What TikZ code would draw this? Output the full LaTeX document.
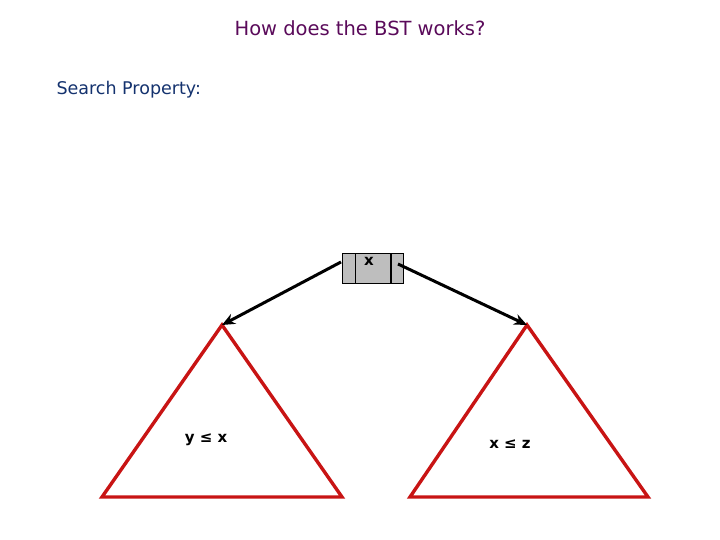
\documentclass[tikz,border=0pt]{standalone}
\usepackage{fontspec}
\setmainfont{DejaVu Sans}
\usetikzlibrary{arrows.meta}
\definecolor{titlecol}{RGB}{90,10,90}
\definecolor{subcol}{RGB}{20,50,110}
\definecolor{trired}{RGB}{200,20,20}
\definecolor{boxgray}{RGB}{190,190,190}
\tikzset{
  tri/.style={draw=trired, line width=3.4pt, line join=miter},
  conn/.style={draw=black, line width=3pt, -{Stealth[length=13pt,width=11pt]}},
  cell/.style={draw=black, fill=boxgray, line width=0.9pt, minimum height=30pt, inner sep=0pt},
  lbl/.style={font=\fontsize{15}{18}\selectfont\bfseries, text=black}
}
\begin{document}
\begin{tikzpicture}[x=1pt,y=-1pt]
\useasboundingbox (0,0) rectangle (720,540);
\node[text=titlecol, font=\fontsize{19.5}{22}\selectfont] (title) at (360,28) {How does the BST works?};
\node[text=subcol, font=\fontsize{17.5}{20}\selectfont, anchor=west] (sub) at (53,90) {Search Property:};
% node box
\node[cell, minimum width=13pt] (lp) at (348.5,268) {};
\node[cell, minimum width=35pt, anchor=west] (key) at (lp.east) {};
\node[cell, minimum width=12pt, anchor=west] (rp) at (key.east) {};
\node[lbl] (kx) at (369,261) {x};
% triangles
\coordinate (la) at (222,325);
\coordinate (lb1) at (102,497);
\coordinate (lb2) at (342,497);
\coordinate (ra) at (527,325);
\coordinate (rb1) at (410,497);
\coordinate (rb2) at (648,497);
\draw[tri] (la) -- (lb1) -- (lb2) -- cycle;
\draw[tri] (ra) -- (rb1) -- (rb2) -- cycle;
\coordinate (ls) at (341,262);
\coordinate (rs) at (398,264);
\draw[conn] (ls) -- (la);
\draw[conn] (rs) -- (ra);
\node[lbl] (yx) at (206,440) {y ≤ x};
\node[lbl] (xz) at (510,444) {x ≤ z};
\end{tikzpicture}
\end{document}
